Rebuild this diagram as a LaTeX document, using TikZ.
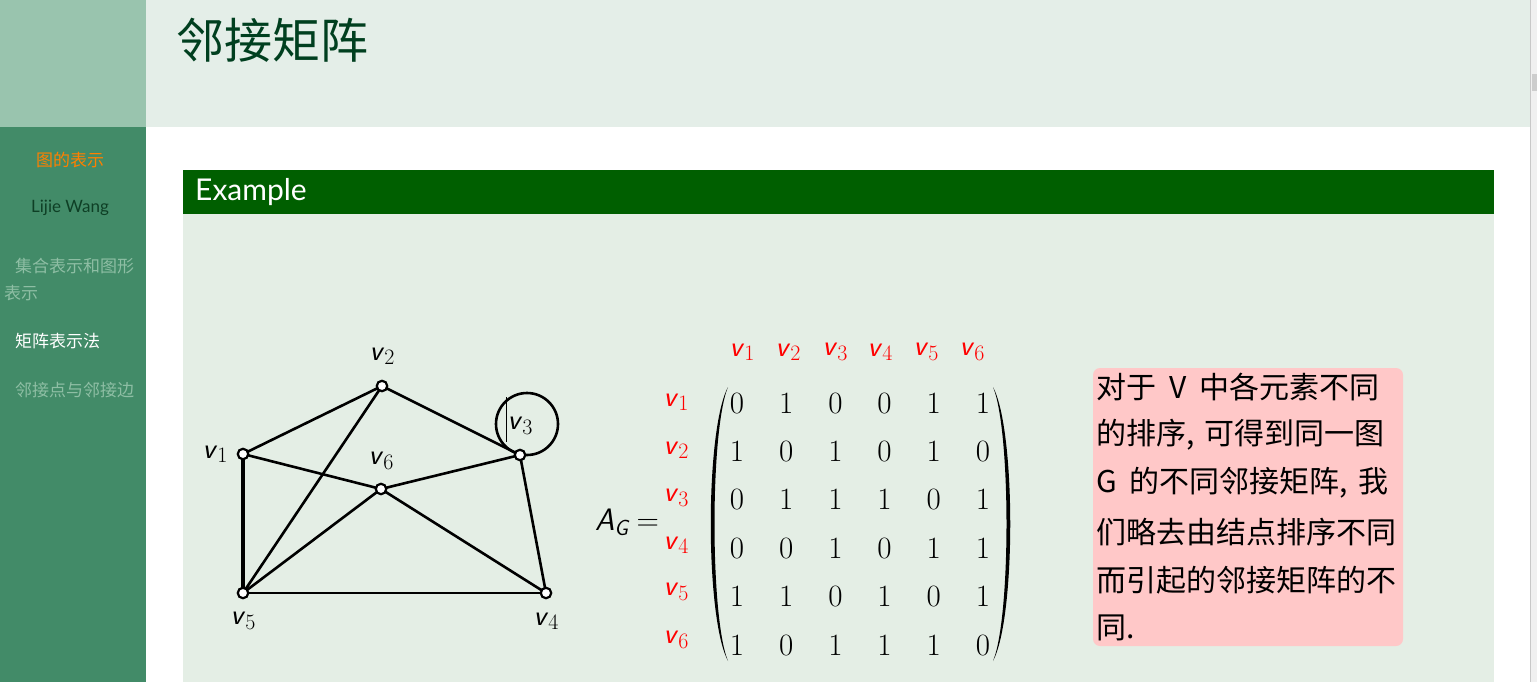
\documentclass[tikz,border=0pt]{standalone}
\usepackage{fontspec}
\newfontfamily\cjk{Noto Sans CJK SC}
\newfontfamily\lato{Lato}
\definecolor{sidetop}{HTML}{99C4AE}
\definecolor{sidebot}{HTML}{428B68}
\definecolor{headbg}{HTML}{E4EEE8}
\definecolor{blocktitle}{HTML}{005F00}
\definecolor{blockbody}{HTML}{E4EEE5}
\definecolor{pinkbox}{HTML}{FFC8C8}
\definecolor{titlegreen}{HTML}{003F1F}
\definecolor{faded}{HTML}{8EBEA4}
\definecolor{orangeitem}{HTML}{FF8000}
\definecolor{authorgreen}{HTML}{0E3F25}
\definecolor{scrollbg}{HTML}{F0F0F0}
\definecolor{scrollline}{HTML}{C8C8C8}
\definecolor{scrollthumb}{HTML}{CDCDCD}
\newcommand\vx[1]{\textsf{\itshape v}\raisebox{-0.35ex}{\fontsize{22}{22}\selectfont #1}}
\newcommand\wsp{\hspace{13pt}}
\tikzset{
  vert/.style={circle,draw=black,fill=white,line width=2.2pt,minimum size=10.5pt,inner sep=0pt},
  edge/.style={line width=2.6pt,black},
  glabel/.style={font=\fontsize{29}{29}\selectfont,inner sep=0pt},
  rlabel/.style={font=\fontsize{29}{29}\selectfont,text=red,inner sep=0pt},
  entry/.style={font=\fontsize{31}{31}\selectfont,inner sep=0pt},
  side/.style={font=\cjk\fontsize{17}{17}\selectfont,inner sep=0pt,anchor=west},
  pinktext/.style={font=\cjk\fontsize{30}{30}\selectfont,inner sep=0pt,anchor=west},
}
\begin{document}
\begin{tikzpicture}[x=1pt,y=-1pt]
\useasboundingbox (0,0) rectangle (1537,682);
% backgrounds
\fill[white] (0,0) rectangle (1537,682);
\fill[sidetop] (0,0) rectangle (146,127);
\fill[sidebot] (0,127) rectangle (146,682);
\fill[headbg] (146,0) rectangle (1530,127);
\fill[scrollbg] (1530,0) rectangle (1537,682);
\fill[scrollline] (1530,0) rectangle (1531,682);
\fill[scrollthumb] (1532,74) rectangle (1537,91);
\fill[blocktitle] (183,170) rectangle (1494,214);
\fill[blockbody] (183,214) rectangle (1494,682);
% title
\node[font=\cjk\fontsize{48}{48}\selectfont,text=titlegreen,anchor=west,inner sep=0pt] (title) at (176,40) {邻接矩阵};
\node[font=\lato\fontsize{30}{30}\selectfont,text=white,anchor=west,inner sep=0pt] (example) at (195,192) {Example};
% sidebar
\node[side,anchor=center,text=orangeitem] (s1) at (70,160) {图的表示};
\node[font=\lato\fontsize{17}{17}\selectfont,text=authorgreen,inner sep=0pt] (s2) at (70,208) {Lijie Wang};
\node[side,text=faded] (s3) at (15,266) {集合表示和图形};
\node[side,text=faded] (s3b) at (4,293) {表示};
\node[side,text=white] (s4) at (15,341) {矩阵表示法};
\node[side,text=faded] (s5) at (15,390) {邻接点与邻接边};
% graph
\coordinate (n1) at (243,454);
\coordinate (n2) at (382,386);
\coordinate (n3) at (520,455);
\coordinate (n4) at (546,593);
\coordinate (n5) at (243,593);
\coordinate (n6) at (381,489);
\draw[edge] (n1) -- (n2);
\draw[edge] (n1) -- (n6);
\draw[line width=4pt] (n1) -- (n5);
\draw[edge] (n2) -- (n5);
\draw[edge] (n2) -- (n3);
\draw[edge] (n6) -- (n3);
\draw[edge] (n6) -- (n5);
\draw[edge] (n6) -- (n4);
\draw[edge] (n3) -- (n4);
\draw[edge] (n5) -- (n4);
\coordinate (loopc) at (527,424);
\draw[edge] (loopc) circle[radius=31];
\coordinate (cur1) at (506,397);
\coordinate (cur2) at (506,442);
\draw[line width=1pt] (cur1) -- (cur2);
\foreach \i in {1,...,6} { \node[vert] (v\i) at (n\i) {}; }
\node[glabel] (l1) at (215,454) {\vx{1}};
\node[glabel] (l2) at (382,356) {\vx{2}};
\node[glabel] (l3) at (520,426) {\vx{3}};
\node[glabel] (l6) at (381,461) {\vx{6}};
\node[glabel] (l5) at (243,621) {\vx{5}};
\node[glabel] (l4) at (546,621) {\vx{4}};
% matrix
\node[font=\fontsize{31}{31}\selectfont,inner sep=0pt] (ag) at (627,522) {\textsf{\itshape A}\raisebox{-0.35ex}{\fontsize{22}{22}\selectfont\textsf{\itshape G}}\hspace{7pt}=};
\foreach \x [count=\j] in {742,788,835,880,926,972} {
  \node[rlabel] (c\j) at (\x,352) {\vx{\j}};
}
\foreach \y [count=\i] in {402,450,498,545,592,640} {
  \node[rlabel] (r\i) at (676,\y) {\vx{\i}};
}
\foreach \y/\r [count=\i] in {403/{0,1,0,0,1,1},451/{1,0,1,0,1,0},499/{0,1,1,1,0,1},548/{0,0,1,0,1,1},596/{1,1,0,1,0,1},645/{1,0,1,1,1,0}} {
  \foreach \val [count=\j] in \r {
    \pgfmathsetmacro\xx{737+49.2*(\j-1)}
    \node[entry] (m\i\j) at (\xx,\y) {\val};
  }
}
\coordinate (lpt) at (728,387);
\coordinate (lpb) at (728,661);
\fill (lpt) .. controls (705,430) and (705,618) .. (lpb) .. controls (710,618) and (710,430) .. (lpt);
\coordinate (rpt) at (993,387);
\coordinate (rpb) at (993,661);
\fill (rpt) .. controls (1016,430) and (1016,618) .. (rpb) .. controls (1011,618) and (1011,430) .. (rpt);
% pink box
\fill[pinkbox,rounded corners=7pt] (1093,368) rectangle (1403,646);
\node[pinktext] (p1) at (1096,387) {对于\wsp V\wsp 中各元素不同};
\node[pinktext] (p2) at (1096,435) {的排序,\hspace{10pt}可得到同一图};
\node[pinktext] (p3) at (1096,483) {G\wsp 的不同邻接矩阵,\hspace{10pt}我};
\node[pinktext] (p4) at (1096,532) {们略去由结点排序不同};
\node[pinktext] (p5) at (1096,580) {而引起的邻接矩阵的不};
\node[pinktext] (p6) at (1096,628) {同.};
\end{tikzpicture}
\end{document}
